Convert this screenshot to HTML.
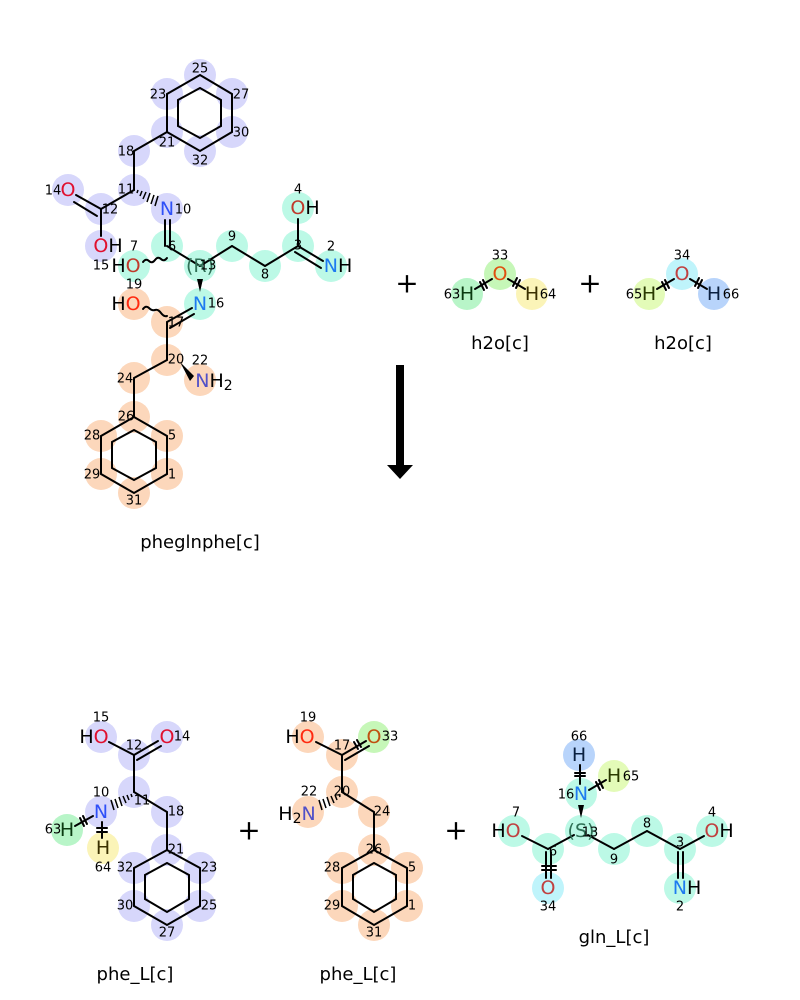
<!DOCTYPE html>
<html><head><meta charset="utf-8"><style>
html,body{margin:0;padding:0;background:#fff;}
svg{display:block;}
circle{r:16px}
.b{stroke:#000;stroke-width:2;fill:none;stroke-linecap:round}
.a{font-family:"DejaVu Sans","Liberation Sans",sans-serif;font-size:19px;text-anchor:middle;dominant-baseline:central}
.n{font-family:"DejaVu Sans","Liberation Sans",sans-serif;font-size:13px;text-anchor:middle;dominant-baseline:central;fill:#000}
.t{font-family:"DejaVu Sans","Liberation Sans",sans-serif;font-size:18px;text-anchor:middle;fill:#000}
.p{font-family:"DejaVu Sans","Liberation Sans",sans-serif;font-size:28px;text-anchor:middle;dominant-baseline:central;fill:#000}
</style></head><body>
<svg width="800" height="1000" viewBox="0 0 800 1000" xmlns="http://www.w3.org/2000/svg">
<rect width="800" height="1000" fill="#fff"/>
<g fill="#d7d7fb">
<circle cx="200" cy="75" r="15"/><circle cx="167" cy="94" r="15"/><circle cx="232" cy="94" r="15"/>
<circle cx="167" cy="132" r="15"/><circle cx="232" cy="132" r="15"/><circle cx="200" cy="151" r="15"/>
<circle cx="134" cy="151" r="15"/><circle cx="134" cy="190" r="15"/><circle cx="101" cy="209" r="15"/>
<circle cx="68" cy="190" r="15"/><circle cx="101" cy="246" r="15"/><circle cx="167" cy="209" r="15"/>
</g>
<g fill="#bcf9e6">
<circle cx="167" cy="246" r="15"/><circle cx="134" cy="266" r="15"/><circle cx="200" cy="266" r="15"/>
<circle cx="232" cy="246" r="15"/><circle cx="265" cy="266" r="15"/><circle cx="298" cy="246" r="15"/>
<circle cx="298" cy="208" r="15"/><circle cx="331" cy="266" r="15"/><circle cx="200" cy="304" r="15"/>
</g>
<g fill="#fcd7bb">
<circle cx="134" cy="304" r="15"/><circle cx="167" cy="322" r="15"/><circle cx="167" cy="360" r="15"/>
<circle cx="200" cy="380" r="15"/><circle cx="134" cy="378" r="15"/><circle cx="134" cy="417" r="15"/>
<circle cx="167" cy="436" r="15"/><circle cx="167" cy="474" r="15"/><circle cx="134" cy="493" r="15"/>
<circle cx="101" cy="474" r="15"/><circle cx="101" cy="436" r="15"/>
</g>
<g class="b">
<polygon points="200,75 232,94 232,132 200,151 167,132 167,94"/>
<polyline points="200,88 221,100 221,126 200,138 178,126 178,100 200,88"/>
<line x1="167" y1="132" x2="134" y2="151"/><line x1="134" y1="151" x2="134" y2="190"/>
<line x1="134" y1="190" x2="101" y2="209"/>
<line x1="101" y1="209" x2="76" y2="195"/><line x1="97" y1="216" x2="74" y2="202"/>
<line x1="101" y1="209" x2="101" y2="236"/>
<line x1="165" y1="220" x2="165" y2="246"/><line x1="170" y1="220" x2="170" y2="246"/>
<line x1="167" y1="246" x2="200" y2="266"/>
<line x1="200" y1="266" x2="232" y2="246"/><line x1="232" y1="246" x2="265" y2="266"/><line x1="265" y1="266" x2="298" y2="246"/>
<line x1="298" y1="246" x2="298" y2="219"/>
<line x1="298" y1="246" x2="323" y2="261"/><line x1="295" y1="252" x2="321" y2="268"/>
<line x1="167" y1="322" x2="167" y2="360"/><line x1="167" y1="360" x2="134" y2="378"/>
<line x1="134" y1="378" x2="134" y2="417"/>
<polygon points="134,417 167,436 167,474 134,493 101,474 101,436"/>
<polyline points="134,430 156,442 156,468 134,480 112,468 112,442 134,430"/>
<line x1="167" y1="322" x2="192" y2="308"/><line x1="170" y1="328" x2="194" y2="314"/>
</g>
<path d="M143,262 q3,-4 6,-1 t6,-1 t6,-1 t6,-1" class="b" stroke-width="1.5"/>
<path d="M143,309 q3,-4 6,-1 t6,2 t6,3 t6,3" class="b" stroke-width="1.5"/>
<g stroke="#000" stroke-width="1.5">
<line x1="138" y1="190" x2="137" y2="193"/><line x1="142" y1="191" x2="140" y2="196"/><line x1="146" y1="192" x2="143" y2="199"/>
<line x1="150" y1="193" x2="147" y2="202"/><line x1="154" y1="195" x2="151" y2="204"/><line x1="158" y1="196" x2="155" y2="206"/>
</g>
<polygon points="200,292 197,279 203,279" fill="#000"/>
<polygon points="180,362 194,376 190,381" fill="#000"/>
<text class="a" x="68" y="190" fill="#e0102f">O</text>
<text class="a" x="108" y="246" fill="#000"><tspan fill="#e0102f">O</tspan>H</text>
<text class="a" x="167" y="209" fill="#2f50f8">N</text>
<text class="a" x="126" y="266" fill="#000">H<tspan fill="#c0392b">O</tspan></text>
<text class="a" x="200" y="266" fill="#2f6f55" font-size="17">(R)</text>
<text class="a" x="305" y="208" fill="#000"><tspan fill="#c0392b">O</tspan>H</text>
<text class="a" x="338" y="266" fill="#000"><tspan fill="#1e7bf0">N</tspan>H</text>
<text class="a" x="200" y="304" fill="#1e7bf0">N</text>
<text class="a" x="126" y="304" fill="#000">H<tspan fill="#ff2a10">O</tspan></text>
<text class="a" x="214" y="381" fill="#000"><tspan fill="#5050c8">N</tspan>H<tspan font-size="14" dy="5">2</tspan></text>
<g class="n">
<text x="200" y="69">25</text><text x="158" y="95">23</text><text x="241" y="95">27</text>
<text x="167" y="143">21</text><text x="241" y="133">30</text><text x="200" y="161">32</text>
<text x="126" y="152">18</text><text x="126" y="190">11</text><text x="110" y="210">12</text>
<text x="53" y="191">14</text><text x="101" y="266">15</text><text x="183" y="210">10</text>
<text x="134" y="247">7</text><text x="172" y="247">6</text><text x="208" y="266">13</text>
<text x="232" y="237">9</text><text x="265" y="275">8</text><text x="298" y="246">3</text>
<text x="298" y="190">4</text><text x="331" y="247">2</text><text x="216" y="304">16</text>
<text x="134" y="285">19</text><text x="176" y="323">17</text><text x="176" y="360">20</text>
<text x="200" y="361">22</text><text x="125" y="379">24</text><text x="126" y="417">26</text>
<text x="172" y="436">5</text><text x="172" y="475">1</text><text x="134" y="501">31</text>
<text x="92" y="436">28</text><text x="92" y="475">29</text>
</g>
<text class="t" x="200" y="548">pheglnphe[c]</text>
<circle cx="500" cy="274" r="15" fill="#c6f7b8"/><circle cx="467" cy="294" r="15" fill="#b8f5c8"/><circle cx="532" cy="294" r="15" fill="#fbf4b8"/>
<circle cx="682" cy="274" r="15" fill="#bff4fb"/><circle cx="649" cy="294" r="15" fill="#e3fbb8"/><circle cx="714" cy="294" r="15" fill="#b8d4fb"/>
<g class="b">
<line x1="475" y1="289" x2="492" y2="279"/><line x1="508" y1="279" x2="525" y2="289"/>
<line x1="657" y1="289" x2="674" y2="279"/><line x1="690" y1="279" x2="707" y2="289"/>
<line x1="480" y1="282" x2="484" y2="290"/><line x1="483" y1="280" x2="487" y2="288"/>
<line x1="516" y1="288" x2="520" y2="280"/><line x1="513" y1="286" x2="517" y2="278"/>
<line x1="662" y1="282" x2="666" y2="290"/><line x1="665" y1="280" x2="669" y2="288"/>
<line x1="698" y1="288" x2="702" y2="280"/><line x1="695" y1="286" x2="699" y2="278"/>
</g>
<text class="a" x="500" y="274" fill="#e05010">O</text><text class="a" x="467" y="294" fill="#0a3a10">H</text><text class="a" x="532" y="294" fill="#3a3000">H</text>
<text class="a" x="682" y="274" fill="#c04040">O</text><text class="a" x="649" y="294" fill="#2a3a00">H</text><text class="a" x="714" y="294" fill="#0a2040">H</text>
<g class="n"><text x="500" y="256">33</text><text x="452" y="295">63</text><text x="548" y="295">64</text>
<text x="682" y="256">34</text><text x="634" y="295">65</text><text x="731" y="295">66</text></g>
<text class="t" x="500" y="349">h2o[c]</text><text class="t" x="683" y="349">h2o[c]</text>
<text class="p" x="407" y="283">+</text><text class="p" x="590" y="283">+</text>
<rect x="396" y="365" width="8" height="101" fill="#000"/>
<polygon points="387,465 413,465 400,479" fill="#000"/>
<g fill="#d7d7fb">
<circle cx="101" cy="737" r="15"/><circle cx="167" cy="737" r="15"/><circle cx="134" cy="755" r="15"/>
<circle cx="134" cy="792" r="15"/><circle cx="101" cy="812" r="15"/><circle cx="167" cy="812" r="15"/>
<circle cx="167" cy="850" r="15"/><circle cx="200" cy="868" r="15"/><circle cx="200" cy="906" r="15"/>
<circle cx="167" cy="925" r="15"/><circle cx="134" cy="906" r="15"/><circle cx="134" cy="868" r="15"/>
</g>
<circle cx="67" cy="830" r="15" fill="#b8f5c8"/><circle cx="103" cy="848" r="15" fill="#fbf4b8"/>
<g class="b">
<line x1="109" y1="742" x2="134" y2="755"/><line x1="134" y1="755" x2="158" y2="741"/><line x1="137" y1="760" x2="161" y2="746"/>
<line x1="134" y1="755" x2="134" y2="792"/><line x1="134" y1="792" x2="167" y2="812"/><line x1="167" y1="812" x2="167" y2="850"/>
<polygon points="167,850 200,868 200,906 167,925 134,906 134,868"/>
<polyline points="167,863 189,875 189,899 167,912 145,899 145,875 167,863"/>
<line x1="93" y1="816" x2="75" y2="826"/><line x1="80" y1="818" x2="84" y2="826"/><line x1="83" y1="816" x2="87" y2="824"/>
<line x1="102" y1="822" x2="102" y2="838"/><line x1="97" y1="828" x2="107" y2="828"/><line x1="97" y1="832" x2="107" y2="832"/>
</g>
<g stroke="#000" stroke-width="1.5">
<line x1="131" y1="794" x2="132" y2="797"/><line x1="127" y1="795" x2="129" y2="800"/><line x1="123" y1="796" x2="126" y2="803"/>
<line x1="119" y1="797" x2="122" y2="806"/><line x1="115" y1="799" x2="118" y2="808"/><line x1="111" y1="800" x2="114" y2="810"/>
</g>
<text class="a" x="94" y="737" fill="#000">H<tspan fill="#e0102f">O</tspan></text>
<text class="a" x="167" y="737" fill="#e0102f">O</text>
<text class="a" x="101" y="812" fill="#2f50f8">N</text>
<text class="a" x="67" y="830" fill="#0a3a10">H</text><text class="a" x="103" y="848" fill="#3a3000">H</text>
<g class="n">
<text x="101" y="718">15</text><text x="182" y="737">14</text><text x="134" y="746">12</text>
<text x="142" y="801">11</text><text x="101" y="793">10</text><text x="176" y="812">18</text>
<text x="176" y="850">21</text><text x="209" y="868">23</text><text x="209" y="906">25</text>
<text x="167" y="933">27</text><text x="125" y="906">30</text><text x="125" y="868">32</text>
<text x="53" y="830">63</text><text x="103" y="868">64</text>
</g>
<text class="t" x="135" y="980">phe_L[c]</text>
<text class="p" x="249" y="830">+</text>
<g fill="#fcd7bb">
<circle cx="308" cy="737" r="15"/><circle cx="342" cy="755" r="15"/><circle cx="342" cy="792" r="15"/>
<circle cx="308" cy="812" r="15"/><circle cx="374" cy="812" r="15"/><circle cx="374" cy="850" r="15"/>
<circle cx="407" cy="868" r="15"/><circle cx="407" cy="906" r="15"/><circle cx="374" cy="925" r="15"/>
<circle cx="342" cy="906" r="15"/><circle cx="342" cy="868" r="15"/>
</g>
<circle cx="374" cy="737" r="15" fill="#c6f7b8"/>
<g class="b">
<line x1="316" y1="742" x2="342" y2="755"/><line x1="342" y1="755" x2="366" y2="741"/><line x1="345" y1="760" x2="369" y2="746"/>
<line x1="354" y1="742" x2="358" y2="749"/><line x1="357" y1="740" x2="361" y2="747"/>
<line x1="342" y1="755" x2="342" y2="792"/><line x1="342" y1="792" x2="374" y2="812"/><line x1="374" y1="812" x2="374" y2="850"/>
<polygon points="374,850 407,868 407,906 374,925 342,906 342,868"/>
<polyline points="374,863 396,875 396,899 374,912 353,899 353,875 374,863"/>
</g>
<g stroke="#000" stroke-width="1.5">
<line x1="339" y1="794" x2="340" y2="797"/><line x1="335" y1="795" x2="337" y2="800"/><line x1="331" y1="796" x2="334" y2="803"/>
<line x1="327" y1="797" x2="330" y2="806"/><line x1="323" y1="799" x2="326" y2="808"/><line x1="319" y1="800" x2="322" y2="810"/>
</g>
<text class="a" x="300" y="737" fill="#000">H<tspan fill="#ff2a10">O</tspan></text>
<text class="a" x="374" y="737" fill="#c05010">O</text>
<text class="a" x="297" y="814" fill="#000">H<tspan font-size="14" dy="5">2</tspan><tspan fill="#5050c8" dy="-5">N</tspan></text>
<g class="n">
<text x="308" y="718">19</text><text x="390" y="737">33</text><text x="342" y="746">17</text>
<text x="342" y="792">20</text><text x="309" y="792">22</text><text x="382" y="812">24</text>
<text x="374" y="850">26</text><text x="412" y="868">5</text><text x="412" y="906">1</text>
<text x="374" y="933">31</text><text x="332" y="906">29</text><text x="332" y="868">28</text>
</g>
<text class="t" x="358" y="980">phe_L[c]</text>
<text class="p" x="456" y="830">+</text>
<g fill="#bcf9e6">
<circle cx="514" cy="831" r="15"/><circle cx="548" cy="849" r="15"/><circle cx="581" cy="831" r="15"/>
<circle cx="581" cy="794" r="15"/><circle cx="614" cy="849" r="15"/><circle cx="647" cy="831" r="15"/>
<circle cx="680" cy="849" r="15"/><circle cx="712" cy="831" r="15"/><circle cx="680" cy="888" r="15"/>
</g>
<circle cx="548" cy="888" r="15" fill="#bff4fb"/><circle cx="579" cy="755" r="15" fill="#b8d4fb"/><circle cx="614" cy="776" r="15" fill="#e3fbb8"/>
<g class="b">
<line x1="522" y1="836" x2="548" y2="849"/><line x1="548" y1="849" x2="574" y2="835"/>
<line x1="546" y1="852" x2="546" y2="878"/><line x1="551" y1="852" x2="551" y2="878"/>
<line x1="542" y1="866" x2="556" y2="866"/><line x1="542" y1="870" x2="556" y2="870"/>
<line x1="588" y1="835" x2="614" y2="849"/><line x1="614" y1="849" x2="647" y2="831"/><line x1="647" y1="831" x2="680" y2="849"/>
<line x1="680" y1="849" x2="704" y2="836"/>
<line x1="678" y1="852" x2="678" y2="878"/><line x1="683" y1="852" x2="683" y2="878"/>
<line x1="580" y1="784" x2="580" y2="765"/><line x1="575" y1="773" x2="585" y2="773"/><line x1="575" y1="776" x2="585" y2="776"/>
<line x1="589" y1="790" x2="606" y2="780"/><line x1="596" y1="782" x2="600" y2="790"/><line x1="599" y1="780" x2="603" y2="788"/>
</g>
<polygon points="581,818 578,805 584,805" fill="#000"/>
<text class="a" x="506" y="831" fill="#000">H<tspan fill="#c04040">O</tspan></text>
<text class="a" x="548" y="888" fill="#c04040">O</text>
<text class="a" x="581" y="831" fill="#2f6f55" font-size="17">(S)</text>
<text class="a" x="581" y="794" fill="#1e7bf0">N</text>
<text class="a" x="579" y="755" fill="#0a2040">H</text>
<text class="a" x="614" y="776" fill="#2a3a00">H</text>
<text class="a" x="719" y="831" fill="#000"><tspan fill="#c04040">O</tspan>H</text>
<text class="a" x="687" y="888" fill="#000"><tspan fill="#1e7bf0">N</tspan>H</text>
<g class="n">
<text x="516" y="813">7</text><text x="553" y="852">6</text><text x="590" y="833">13</text>
<text x="566" y="795">16</text><text x="579" y="737">66</text><text x="631" y="777">65</text>
<text x="614" y="860">9</text><text x="647" y="824">8</text><text x="680" y="843">3</text>
<text x="712" y="813">4</text><text x="680" y="907">2</text><text x="548" y="907">34</text>
</g>
<text class="t" x="614" y="943">gln_L[c]</text>
</svg>
</body></html>
